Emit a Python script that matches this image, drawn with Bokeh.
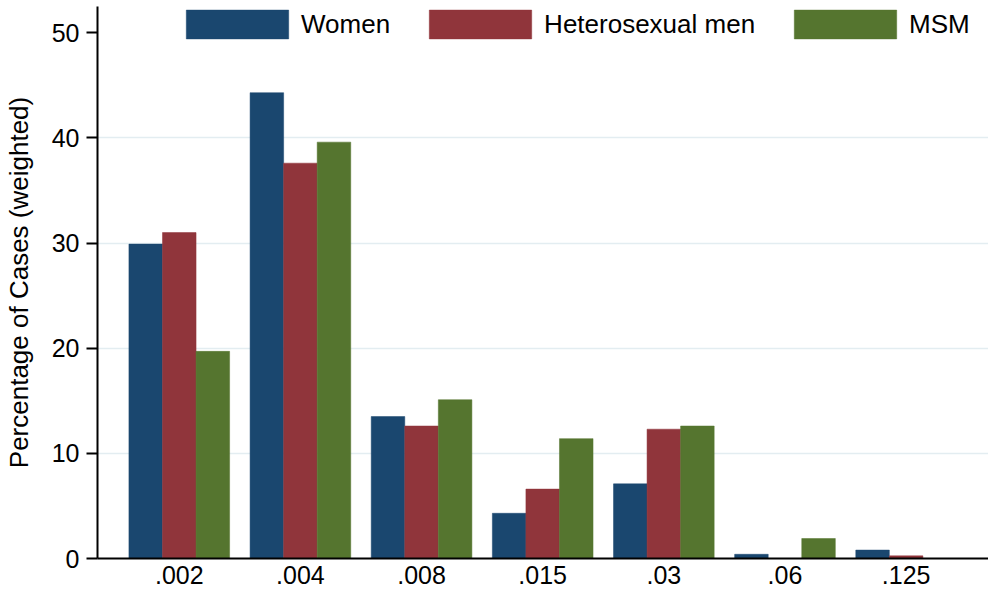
from bokeh.plotting import figure
from bokeh.models import (ColumnDataSource, Range1d, FixedTicker, Legend, LegendItem)
from bokeh.transform import dodge
from bokeh.embed import file_html
from bokeh.resources import INLINE

categories = [".002", ".004", ".008", ".015", ".03", ".06", ".125"]
series_names = ["Women", "Heterosexual men", "MSM"]
women = [29.9, 44.3, 13.5, 4.3, 7.1, 0.4, 0.8]
hetero_men = [31.0, 37.6, 12.6, 6.6, 12.3, 0.0, 0.25]
msm = [19.7, 39.6, 15.1, 11.4, 12.6, 1.9, 0.0]
colors = ["#1a476f", "#90353b", "#55752f"]
y_ticks = [0, 10, 20, 30, 40, 50]

FONT = "Liberation Sans"

source = ColumnDataSource(data=dict(
    x=list(range(len(categories))),
    women=women, hetero=hetero_men, msm=msm,
))

p = figure(width=988, height=596, output_backend="svg", toolbar_location=None,
           x_range=Range1d(-0.675, 6.68), y_range=Range1d(0, 52.5),
           min_border_left=94, min_border_right=0, min_border_top=6, min_border_bottom=38)
p.outline_line_color = None
p.background_fill_color = "white"
p.border_fill_color = "white"

bw = 0.277
r1 = p.vbar(x=dodge("x", -bw, range=p.x_range), top="women", width=bw, source=source,
            fill_color=colors[0], line_color=colors[0], line_width=0.5)
r2 = p.vbar(x=dodge("x", 0.0, range=p.x_range), top="hetero", width=bw, source=source,
            fill_color=colors[1], line_color=colors[1], line_width=0.5)
r3 = p.vbar(x=dodge("x", bw, range=p.x_range), top="msm", width=bw, source=source,
            fill_color=colors[2], line_color=colors[2], line_width=0.5)

# axes
p.xaxis.ticker = FixedTicker(ticks=list(range(len(categories))))
p.xaxis.major_label_overrides = {i: c for i, c in enumerate(categories)}
p.xaxis.major_tick_out = 0
p.xaxis.major_tick_in = 0
p.xaxis.minor_tick_out = 0
p.xaxis.minor_tick_in = 0
p.xaxis.axis_line_color = "black"
p.xaxis.axis_line_width = 2
p.xaxis.major_label_text_font = FONT
p.xaxis.major_label_text_font_size = "25px"
p.xaxis.major_label_text_color = "black"
p.xaxis.major_label_standoff = 7

p.yaxis.ticker = FixedTicker(ticks=y_ticks)
p.yaxis.major_tick_out = 11
p.yaxis.major_tick_in = 0
p.yaxis.minor_tick_out = 0
p.yaxis.minor_tick_in = 0
p.yaxis.major_tick_line_width = 2
p.yaxis.axis_line_color = "black"
p.yaxis.axis_line_width = 2
p.yaxis.major_label_text_font = FONT
p.yaxis.major_label_text_font_size = "25px"
p.yaxis.major_label_text_color = "black"
p.yaxis.major_label_standoff = 7
p.yaxis.axis_label = "Percentage of Cases (weighted)"
p.yaxis.axis_label_text_font = FONT
p.yaxis.axis_label_text_font_size = "26px"
p.yaxis.axis_label_text_font_style = "normal"
p.yaxis.axis_label_text_color = "black"
p.yaxis.axis_label_standoff = 15

p.xgrid.grid_line_color = None
p.ygrid.ticker = FixedTicker(ticks=[10, 20, 30, 40])
p.ygrid.grid_line_color = "#e3edf1"
p.ygrid.grid_line_width = 1.5

legend = Legend(
    items=[LegendItem(label=series_names[0], renderers=[r1]),
           LegendItem(label=series_names[1], renderers=[r2]),
           LegendItem(label=series_names[2], renderers=[r3])],
    orientation="horizontal",
    location=(76, 516),
    glyph_width=128, glyph_height=36,
    label_standoff=0, spacing=26,
    padding=0, margin=0,
    label_text_font=FONT, label_text_font_size="26px", label_text_color="black",
    label_height=36,
    border_line_color=None, background_fill_alpha=0,
)
p.add_layout(legend)

open("out.html", "w").write(file_html(p, INLINE))
